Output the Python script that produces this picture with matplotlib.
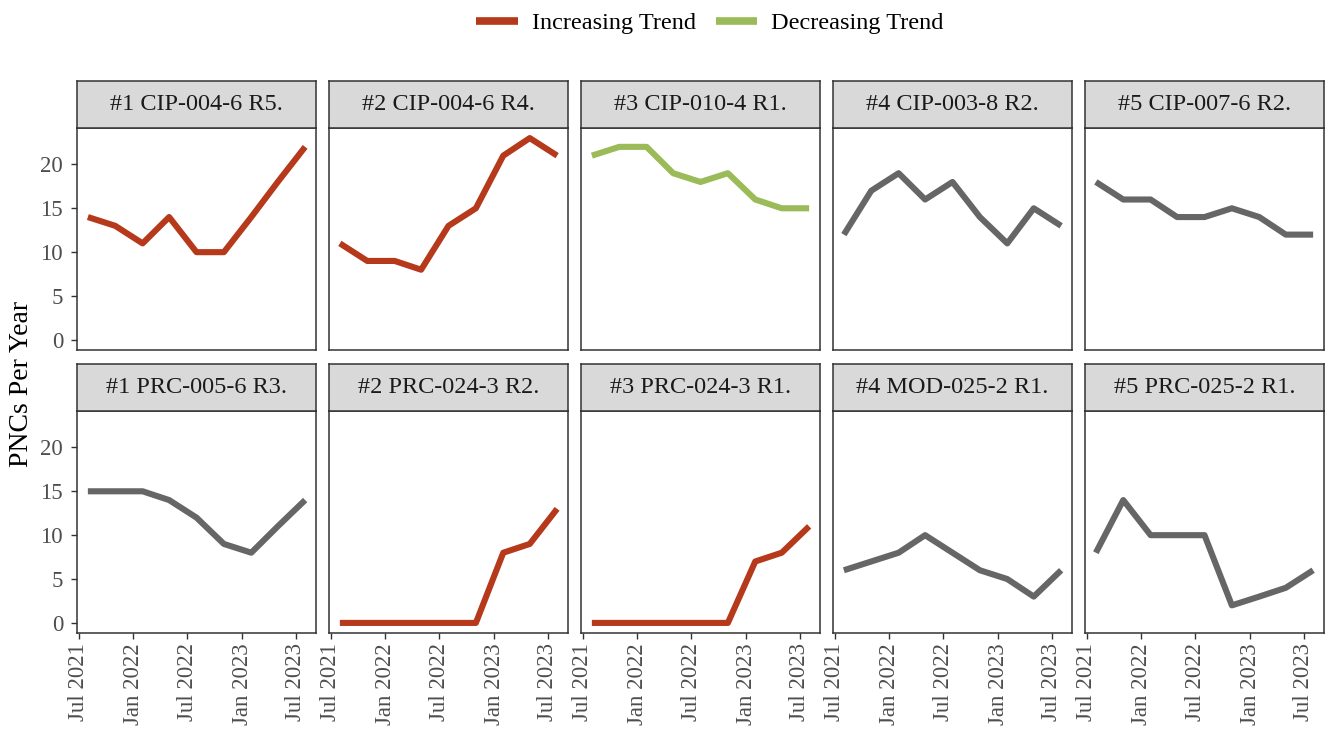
import matplotlib
matplotlib.use("Agg")
import matplotlib.pyplot as plt
import matplotlib.dates as mdates
from matplotlib.lines import Line2D
import numpy as np
import pandas as pd

plt.rcParams['font.family'] = ['Liberation Serif', 'DejaVu Serif']

# Quarterly observation dates
dates = pd.date_range("2021-08-01", periods=9, freq="3MS")

titles = [
    "#1 CIP-004-6 R5.", "#2 CIP-004-6 R4.", "#3 CIP-010-4 R1.",
    "#4 CIP-003-8 R2.", "#5 CIP-007-6 R2.",
    "#1 PRC-005-6 R3.", "#2 PRC-024-3 R2.", "#3 PRC-024-3 R1.",
    "#4 MOD-025-2 R1.", "#5 PRC-025-2 R1.",
]

values = [
    [14, 13, 11, 14, 10, 10, 14, 18, 22],
    [11, 9, 9, 8, 13, 15, 21, 23, 21],
    [21, 22, 22, 19, 18, 19, 16, 15, 15],
    [12, 17, 19, 16, 18, 14, 11, 15, 13],
    [18, 16, 16, 14, 14, 15, 14, 12, 12],
    [15, 15, 15, 14, 12, 9, 8, 11, 14],
    [0, 0, 0, 0, 0, 0, 8, 9, 13],
    [0, 0, 0, 0, 0, 0, 7, 8, 11],
    [6, 7, 8, 10, 8, 6, 5, 3, 6],
    [8, 14, 10, 10, 10, 2, 3, 4, 6],
]

trends = ["Increasing", "Increasing", "Decreasing", "None", "None",
          "None", "Increasing", "Increasing", "None", "None"]

trend_colors = {"Increasing": "#B5391A", "Decreasing": "#9BBB59", "None": "#666666"}

y_ticks = [0, 5, 10, 15, 20]
x_ticks = pd.to_datetime(["2021-07-01", "2022-01-01", "2022-07-01",
                          "2023-01-01", "2023-07-01"])
x_tick_labels = ["Jul 2021", "Jan 2022", "Jul 2022", "Jan 2023", "Jul 2023"]

W, H = 1328, 735
fig = plt.figure(figsize=(W / 100, H / 100), dpi=100)

def frac(x0, y_top, w, h):
    return [x0 / W, 1 - (y_top + h) / H, w / W, h / H]

panel_left = [77, 329, 581, 833, 1085]
panel_w = 239
row_panel_top = [128, 411]
row_strip_top = [81, 364]
panel_h = 222

# shared scales with 5% padding
all_vals = np.concatenate([np.array(v) for v in values])
ymin, ymax = 0, all_vals.max()
ypad = (ymax - ymin) * 0.05
xmin, xmax = mdates.date2num(dates[0]), mdates.date2num(dates[-1])
xpad = (xmax - xmin) * 0.05

edge = "#333333"
for i, (title, vals, trend) in enumerate(zip(titles, values, trends)):
    r, c = divmod(i, 5)
    ax = fig.add_axes(frac(panel_left[c], row_panel_top[r], panel_w, panel_h))
    ax.plot(dates, vals, color=trend_colors[trend], lw=4.4,
            solid_capstyle="butt", solid_joinstyle="round")
    ax.set_xlim(xmin - xpad, xmax + xpad)
    ax.set_ylim(ymin - ypad, ymax + ypad)
    for s in ax.spines.values():
        s.set_color(edge)
        s.set_linewidth(1.1)
    ax.set_yticks(y_ticks)
    ax.set_xticks(mdates.date2num(x_ticks))
    ax.tick_params(colors=edge, length=4, width=1.0, labelcolor="#4D4D4D",
                   labelsize=16.5)
    ax.tick_params(axis="y", pad=6)
    if c == 0:
        ax.set_yticklabels([str(t) for t in y_ticks])
    else:
        ax.tick_params(axis="y", length=0, labelleft=False)
    if r == 1:
        ax.set_xticklabels(x_tick_labels, rotation=90)
    else:
        ax.tick_params(axis="x", length=0, labelbottom=False)

    sax = fig.add_axes(frac(panel_left[c], row_strip_top[r], panel_w,
                            row_panel_top[r] - row_strip_top[r]))
    sax.set_facecolor("#D9D9D9")
    sax.set_xticks([])
    sax.set_yticks([])
    for s in sax.spines.values():
        s.set_color(edge)
        s.set_linewidth(1.1)
    sax.text(0.5, 0.5, title, ha="center", va="center", fontsize=17.5,
             color="#1A1A1A", transform=sax.transAxes)

fig.text(22 / W, 1 - 384 / H, "PNCs Per Year", rotation=90, ha="center",
         va="center", fontsize=20, color="#000000")

handles = [Line2D([], [], color=trend_colors["Increasing"], lw=5.5, solid_capstyle="butt"),
           Line2D([], [], color=trend_colors["Decreasing"], lw=5.5, solid_capstyle="butt")]
fig.legend(handles, ["Increasing Trend", "Decreasing Trend"], loc="center",
           bbox_to_anchor=(710 / W, 1 - 23 / H), ncol=2, frameon=False,
           fontsize=17.5, handlelength=1.7, columnspacing=0.8, handletextpad=0.6)

fig.savefig("out.png", dpi=100)
